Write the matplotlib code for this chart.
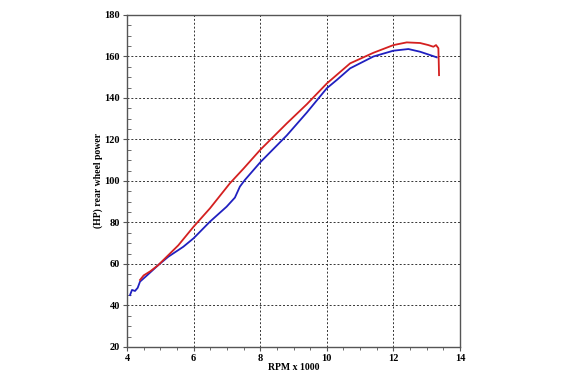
"""
Dyno chart: rear wheel power vs RPM, two runs.
"""

import matplotlib.pyplot as plt
from matplotlib.ticker import MultipleLocator

rpm_blue = [4.09, 4.15, 4.24, 4.32, 4.39, 4.6, 4.94, 5.24, 5.69, 6.0, 6.49, 6.99,
            7.24, 7.39, 7.54, 8.0, 8.8, 9.4, 10.0, 10.3, 10.7, 11.4, 12.0, 12.45,
            12.8, 13.1, 13.3]
hp_blue = [45.0, 47.5, 47.0, 48.5, 51.5, 54.5, 59.5, 63.5, 68.3, 72.4, 80.4, 87.6,
           92.0, 97.3, 100.5, 109.0, 122.0, 133.0, 144.7, 148.7, 154.3, 160.0, 162.8,
           163.6, 162.3, 160.7, 159.6]

rpm_red = [4.39, 4.5, 4.7, 4.94, 5.54, 6.0, 6.49, 7.09, 7.5, 8.0, 8.8, 9.4, 10.0,
           10.7, 11.4, 12.0, 12.4, 12.8, 13.05, 13.2, 13.28, 13.35, 13.36, 13.37]
hp_red = [52.3, 54.5, 56.5, 59.5, 69.0, 78.0, 86.8, 98.9, 106.0, 115.0, 127.8, 137.0,
          147.0, 156.7, 161.8, 165.5, 166.8, 166.5, 165.5, 164.7, 165.5, 164.0, 158.0,
          151.0]

serif = {'family': 'Liberation Serif', 'weight': 'bold'}

fig = plt.figure(figsize=(5.65, 3.75), dpi=100)
ax = fig.add_axes([0.2248, 0.0747, 0.5894, 0.8853])

ax.plot(rpm_blue, hp_blue, color='#2020c0', lw=1.3)
ax.plot(rpm_red, hp_red, color='#d42020', lw=1.3)

ax.set_xlim(4, 14)
ax.set_ylim(20, 180)
ax.xaxis.set_major_locator(MultipleLocator(2))
ax.xaxis.set_minor_locator(MultipleLocator(0.5))
ax.yaxis.set_major_locator(MultipleLocator(20))
ax.yaxis.set_minor_locator(MultipleLocator(5))

ax.grid(True, which='major', color='#333333', linestyle=(0, (2, 2)), lw=0.7)
ax.tick_params(which='both', direction='out', color='#555555', labelsize=7.5, pad=2)
ax.tick_params(which='major', length=3)
ax.tick_params(which='minor', length=2)
ax.tick_params(axis='y', which='minor', direction='in', length=3)
for lbl in ax.get_xticklabels() + ax.get_yticklabels():
    lbl.set_fontfamily(serif['family'])
    lbl.set_fontweight(serif['weight'])
for s in ax.spines.values():
    s.set_color('#555555')
    s.set_linewidth(1.0)

ax.set_xlabel('RPM x 1000', fontsize=7, labelpad=0, **serif)
ax.set_ylabel('(HP) rear wheel power', fontsize=7, labelpad=1, **serif)

fig.savefig('out.png', dpi=100)
